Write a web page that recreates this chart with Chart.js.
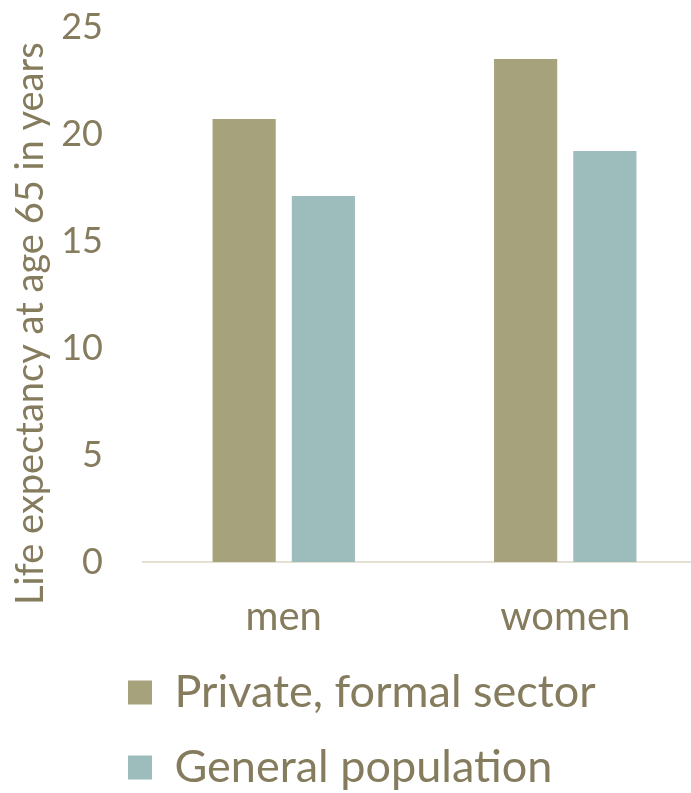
<!DOCTYPE html>
<html>
<head>
<meta charset="utf-8">
<script src="https://cdn.jsdelivr.net/npm/chart.js@4.4.1/dist/chart.umd.min.js"></script>
<style>
  html, body { margin: 0; padding: 0; background: #ffffff; overflow: hidden; }
  #wrap { width: 691px; height: 793px; overflow: hidden; }
  /* plot runs a bit past the right edge in the original, so the canvas is wider and clipped */
  #inner { width: 706px; height: 793px; }
</style>
</head>
<body>
<div id="wrap"><div id="inner"><canvas id="chart_1"></canvas></div></div>
<script>
// data
var categories = ['men', 'women'];
var seriesNames = ['Private, formal sector', 'General population'];
var privateSector = [20.7, 23.5];
var generalPop = [17.1, 19.2];
var yTicks = [0, 5, 10, 15, 20, 25];

var textColor = '#857b5d';
var barColors = ['#a6a27b', '#9dbdbc'];

// move the legend so it lines up like the original
var legendShift = {
  id: 'legendShift',
  afterLayout: function(chart) {
    var lg = chart.legend;
    lg.left = 98;
    lg.top = lg.top + 5;
  }
};

var ctx_1 = document.getElementById('chart_1').getContext('2d');
var chart_1 = new Chart(ctx_1, {
  type: 'bar',
  data: {
    labels: categories,
    datasets: [{
      label: seriesNames[0],
      data: privateSector,
      backgroundColor: barColors[0],
      borderWidth: 0,
      categoryPercentage: 0.563,
      barPercentage: 0.797
    }, {
      label: seriesNames[1],
      data: generalPop,
      backgroundColor: barColors[1],
      borderWidth: 0,
      categoryPercentage: 0.563,
      barPercentage: 0.797
    }]
  },
  options: {
    responsive: true,
    maintainAspectRatio: false,
    animation: false,
    layout: {
      padding: { left: 4, right: 0, top: 27, bottom: -2 }
    },
    plugins: {
      tooltip: { enabled: false },
      legend: {
        position: 'bottom',
        align: 'start',
        labels: {
          color: textColor,
          font: { family: 'Lato', size: 45 },
          boxWidth: 24,
          boxHeight: 24,
          padding: 30
        }
      }
    },
    scales: {
      x: {
        grid: { display: false, drawTicks: false, tickLength: 0 },
        border: { display: true, color: '#e4e0d3', width: 2 },
        ticks: {
          color: textColor,
          font: { family: 'Lato', size: 40, lineHeight: 1 },
          padding: 35
        },
        afterFit: function(axis) {
          axis.height = 73;
        }
      },
      y: {
        min: 0,
        max: 25,
        afterBuildTicks: function(axis) {
          axis.ticks = yTicks.map(function(v) { return { value: v }; });
        },
        afterFit: function(axis) {
          axis.width = 139;
          axis.paddingTop = 0;
          axis.paddingBottom = 0;
        },
        grid: { display: false, drawTicks: false },
        border: { display: false },
        ticks: {
          color: textColor,
          font: { family: 'Lato', size: 36 },
          padding: 40
        },
        title: {
          display: true,
          text: 'Life expectancy at age 65 in years      ',
          color: textColor,
          font: { family: 'Lato', size: 38 },
          padding: { top: 4, bottom: 4 }
        }
      }
    }
  },
  plugins: [legendShift]
});
</script>
</body>
</html>
